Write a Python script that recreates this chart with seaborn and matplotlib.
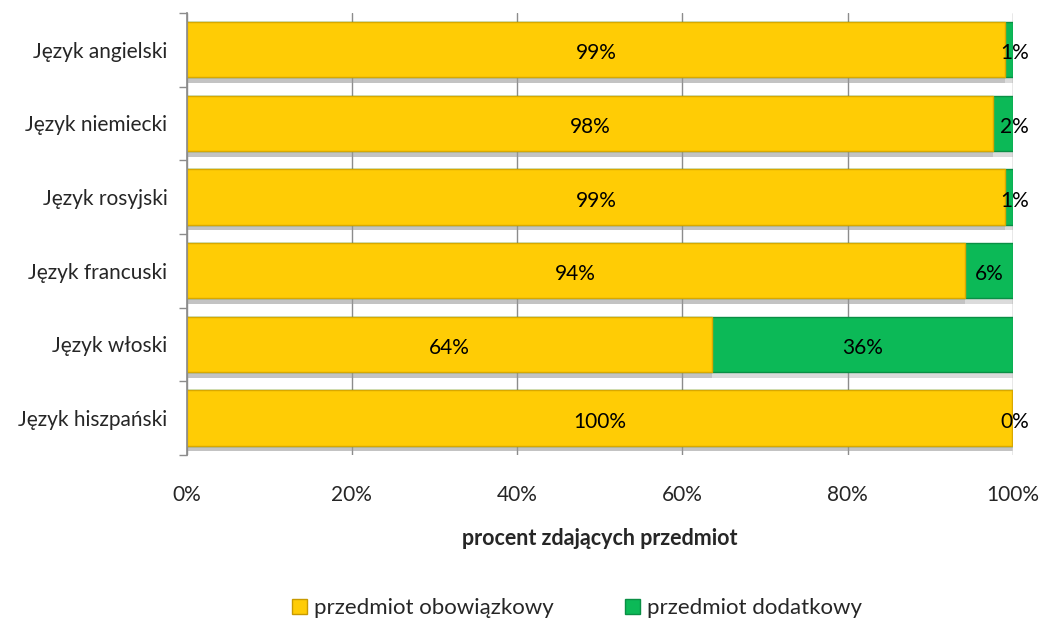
import numpy as np
import pandas as pd
import matplotlib
matplotlib.use("Agg")
import matplotlib.pyplot as plt
import matplotlib.patheffects as pe
from matplotlib.patches import Patch
import seaborn as sns

# dane
jezyki = ["Język angielski", "Język niemiecki", "Język rosyjski",
          "Język francuski", "Język włoski", "Język hiszpański"]
obowiazkowy = [99.1, 97.6, 99.1, 94.2, 63.6, 99.9]
dodatkowy = [0.9, 2.4, 0.9, 5.8, 36.4, 0.1]
xticks_lbl = ["0%", "20%", "40%", "60%", "80%", "100%"]

df = pd.DataFrame({"jezyk": jezyki, "obow": obowiazkowy, "dod": dodatkowy})
df["razem"] = df["obow"] + df["dod"]

sns.set_theme(style="white")
plt.rcParams['font.family'] = ['Lato', 'DejaVu Sans']

ZOLTY = "#FFCC05"
ZIELONY = "#0CB957"
FS = 15

fig = plt.figure(figsize=(10.43, 6.18), dpi=100)
ax = fig.add_axes([0.179, 0.264, 0.792, 0.715])

cien = [pe.SimplePatchShadow(offset=(0, -4), shadow_rgbFace="#999999", alpha=0.35), pe.Normal()]

sns.barplot(data=df, x="razem", y="jezyk", orient="h", color=ZIELONY, saturation=1,
            width=0.75, edgecolor="#0A8F45", linewidth=1, ax=ax)
sns.barplot(data=df, x="obow", y="jezyk", orient="h", color=ZOLTY, saturation=1,
            width=0.75, edgecolor="#D9A800", linewidth=1, ax=ax)
for p in ax.patches:
    p.set_path_effects(cien)

# etykiety
for i, (o, d) in enumerate(zip(obowiazkowy, dodatkowy)):
    ax.text(o / 2, i + 0.05, f"{o:.0f}%", ha="center", va="center", fontsize=FS, color="black")
    xd = o + d / 2 if d >= 3 else 100.2
    ax.text(xd, i + 0.05, f"{d:.0f}%", ha="center", va="center", fontsize=FS, color="black")

ax.set_xlim(0, 100)
ax.set_ylim(len(jezyki) - 0.5, -0.5)
ax.set_xticks(np.arange(0, 101, 20))
ax.set_xticklabels(xticks_lbl, fontsize=FS)
ax.tick_params(axis="x", length=0, pad=22)
ax.xaxis.grid(True, color="#8c8c8c", linewidth=1)
ax.set_axisbelow(True)

# podzialki miedzy kategoriami
ax.set_yticks(np.arange(len(jezyki)))
ax.set_yticklabels(jezyki, fontsize=FS)
ax.set_yticks(np.arange(-0.5, len(jezyki)), minor=True)
ax.tick_params(axis="y", which="major", length=0, pad=14)
ax.tick_params(axis="y", which="minor", length=6, color="#8c8c8c", width=1, left=True)

for s in ["top", "right", "bottom"]:
    ax.spines[s].set_visible(False)
ax.spines["left"].set_color("#8c8c8c")

ax.set_xlabel("procent zdających przedmiot", fontsize=15.5, fontweight="bold", labelpad=16)
ax.set_ylabel("")

uchwyty = [Patch(facecolor=ZOLTY, edgecolor="#C89A00"),
           Patch(facecolor=ZIELONY, edgecolor="#0A8F45")]
fig.legend(uchwyty, ["przedmiot obowiązkowy", "przedmiot dodatkowy"],
           loc="center", bbox_to_anchor=(0.553, 0.016), ncol=2, frameon=False,
           fontsize=16, handlelength=0.7, handleheight=0.7, handletextpad=0.3,
           columnspacing=3.2)

fig.savefig("out.png", dpi=100)
